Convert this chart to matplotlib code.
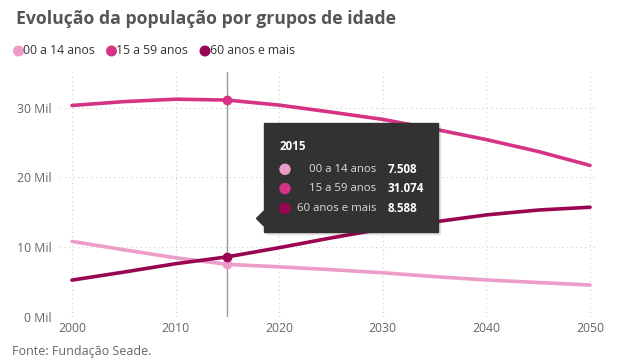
import matplotlib
matplotlib.use("Agg")
import matplotlib.pyplot as plt
from matplotlib.patches import Polygon, Circle, Rectangle

# ---- data (thousands of people, "Mil") ----
years = [2000, 2005, 2010, 2015, 2020, 2025, 2030, 2035, 2040, 2045, 2050]
age_0_14 = [10.8, 9.6, 8.45, 7.508, 7.15, 6.75, 6.3, 5.75, 5.27, 4.9, 4.55]
age_15_59 = [30.3, 30.85, 31.2, 31.074, 30.35, 29.35, 28.3, 26.9, 25.4, 23.7, 21.7]
age_60p = [5.25, 6.4, 7.6, 8.588, 9.9, 11.3, 12.6, 13.6, 14.6, 15.3, 15.7]
series_names = ["00 a 14 anos", "15 a 59 anos", "60 anos e mais"]
colors = ["#EC9CC8", "#D63384", "#9A0552"]
x_ticks = [2000, 2010, 2020, 2030, 2040, 2050]
y_ticks = [0, 10, 20, 30]
highlight_year = 2015
title = "Evolução da população por grupos de idade"
source = "Fonte: Fundação Seade."

FONT = ["Open Sans", "DejaVu Sans"]
plt.rcParams["font.family"] = FONT

W, H = 618, 363
fig = plt.figure(figsize=(W / 100, H / 100), dpi=100)

# main axes in pixel layout
ax_l, ax_r, ax_t, ax_b = 60, 598, 72, 316.7
ax = fig.add_axes([ax_l / W, (H - ax_b) / H, (ax_r - ax_l) / W, (ax_b - ax_t) / H])
ax.set_xlim(1998.84, 2050.77)
ax.set_ylim(0, 35.1)
for s in ax.spines.values():
    s.set_visible(False)
ax.set_xticks(x_ticks)
ax.set_yticks(y_ticks)
ax.set_yticklabels([f"{v} Mil" for v in y_ticks])
ax.tick_params(axis="both", length=0, labelsize=8.8, colors="#666666")
ax.tick_params(axis="y", pad=6)
ax.tick_params(axis="x", pad=4)
ax.grid(True, color="#cfcfcf", linestyle=(0, (1, 3)), linewidth=0.8)
ax.set_axisbelow(True)

series = [age_0_14, age_15_59, age_60p]
hi = years.index(highlight_year)
ax.axvline(highlight_year, color="#9a9a9a", lw=1.0, zorder=2)
for vals, c in zip(series, colors):
    ax.plot(years, vals, color=c, lw=2.6, solid_capstyle="round", zorder=3)
    ax.plot([years[hi]], [vals[hi]], "o", color=c, ms=6, zorder=4)

# overlay axes in pixel coords for title, legend, tooltip
ov = fig.add_axes([0, 0, 1, 1], facecolor="none")
ov.set_xlim(0, W)
ov.set_ylim(H, 0)
ov.axis("off")

ov.text(16, 19, title, fontsize=12.7, fontweight="bold", color="#555555",
        va="center", ha="left")

# legend
lx = [18.5, 111.5, 205]
for x0, name, c in zip(lx, series_names, colors):
    ov.add_patch(Circle((x0, 51), 4.8, color=c))
    ov.text(x0 + 4.5, 51, name, fontsize=8.8, color="#333333", va="center", ha="left")

ov.text(12, 352, source, fontsize=9.0, color="#666666", va="center", ha="left")

# tooltip
bx0, bx1, by0, by1 = 264, 437.5, 122.5, 232
ov.add_patch(Rectangle((bx0 + 2, by0 + 2), bx1 - bx0, by1 - by0, color="#000000",
                       alpha=0.08, zorder=9))
ov.add_patch(Rectangle((bx0, by0), bx1 - bx0, by1 - by0, color="#323232", zorder=10))
ov.add_patch(Polygon([[bx0, 211], [256.5, 218.5], [bx0, 226]], closed=True,
                     color="#323232", zorder=10))
ov.text(280, 147, str(highlight_year), fontsize=8.4, fontweight="bold", color="white",
        va="center", ha="left", zorder=11)
rows_y = [169.3, 188.6, 208.5]
for ry, name, vals, c in zip(rows_y, series_names, series, colors):
    ov.add_patch(Circle((285, ry), 5.0, color=c, zorder=11))
    ov.text(376, ry, name, fontsize=8.2, color="#dddddd", va="center", ha="right", zorder=11)
    ov.text(387.5, ry, f"{vals[hi]:.3f}", fontsize=8.4, fontweight="bold", color="white",
            va="center", ha="left", zorder=11)

fig.savefig("out.png", dpi=100)
